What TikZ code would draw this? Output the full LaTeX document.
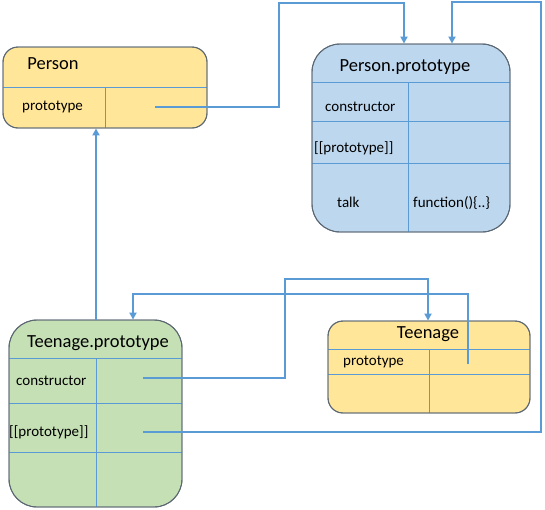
\documentclass[tikz,border=0pt]{standalone}
\usepackage{fontspec}
\setmainfont{Carlito}
\usetikzlibrary{arrows.meta}
\definecolor{yel}{HTML}{FFE699}
\definecolor{blu}{HTML}{BDD7EE}
\definecolor{grn}{HTML}{C5E0B4}
\definecolor{lnk}{HTML}{5B9BD5}
\definecolor{bord}{HTML}{5A6672}
\begin{document}
\begin{tikzpicture}[x=1pt,y=-1pt,
  box/.style={draw=bord, line width=0.9pt, rectangle, inner sep=0pt},
  div/.style={draw=lnk, line width=0.9pt},
  link/.style={draw=lnk, line width=2pt, -{Triangle[length=7pt,width=7pt]}},
  big/.style={font=\fontsize{18.5}{20}\selectfont, inner sep=0pt, anchor=base},
  small/.style={font=\fontsize{15}{17}\selectfont, inner sep=0pt, anchor=base west}]
\useasboundingbox (0,0) rectangle (545,509);

% Person
\node[box, fill=yel, rounded corners=15pt, minimum width=204pt, minimum height=81pt] (person) at (105,87.5) {};
\draw[div] (3,87) -- (207,87);
\draw[div] (105,87) -- (105,128);
\node[box, draw=bord, rounded corners=15pt, minimum width=204pt, minimum height=81pt] at (105,87.5) {};
\node[big] (personT) at (53,69) {Person};
\node[small] (personP) at (22,110) {prototype};

% Person.prototype
\node[box, fill=blu, rounded corners=28pt, minimum width=198pt, minimum height=188pt] (pp) at (411,138) {};
\draw[div] (312,82) -- (510,82);
\draw[div] (312,121) -- (510,121);
\draw[div] (312,163) -- (510,163);
\draw[div] (408,82) -- (408,232);
\node[box, rounded corners=28pt, minimum width=198pt, minimum height=188pt] at (411,138) {};
\node[big] (ppT) at (405,71) {Person.prototype};
\node[small] (ppC) at (325,111) {constructor};
\node[small] (ppP) at (314,152) {[[prototype]]};
\node[small] (ppK) at (337,207) {talk};
\node[small] (ppF) at (413,207) {function()\{..\}};

% Teenage.prototype
\node[box, fill=grn, rounded corners=28pt, minimum width=173pt, minimum height=187pt] (tp) at (95.5,413.5) {};
\draw[div] (9,358) -- (182,358);
\draw[div] (9,403) -- (182,403);
\draw[div] (9,452) -- (182,452);
\draw[div] (96,358) -- (96,507);
\node[box, rounded corners=28pt, minimum width=173pt, minimum height=187pt] at (95.5,413.5) {};
\node[big] (tpT) at (98,347) {Teenage.prototype};
\node[small] (tpC) at (16,385) {constructor};
\node[small] (tpP) at (9,436) {[[prototype]]};

% Teenage
\node[box, fill=yel, rounded corners=15pt, minimum width=202pt, minimum height=92pt] (teen) at (429,367) {};
\draw[div] (328,349) -- (530,349);
\draw[div] (328,374) -- (530,374);
\draw[div] (429,349) -- (429,413);
\node[box, rounded corners=15pt, minimum width=202pt, minimum height=92pt] at (429,367) {};
\node[big] (teenT) at (428,338) {Teenage};
\node[small] (teenP) at (343,365) {prototype};

% connector end points
\coordinate (a1) at (155,107);
\coordinate (a2) at (143,432);
\coordinate (a3) at (143,378);
\coordinate (a4) at (468,364);

% connectors
\draw[link] (a1) -- (279,107) -- (279,3) -- (404,3) -- (pp.north -| 404,0);
\draw[link] (a2) -- (541,432) -- (541,2) -- (452,2) -- (pp.north -| 452,0);
\draw[link] (tp.north -| 96,0) -- (person.south -| 96,0);
\draw[link] (a3) -- (285,378) -- (285,279) -- (428,279) -- (teen.north -| 428,0);
\draw[link] (a4) -- (468,294) -- (133,294) -- (tp.north -| 133,0);
\end{tikzpicture}
\end{document}
